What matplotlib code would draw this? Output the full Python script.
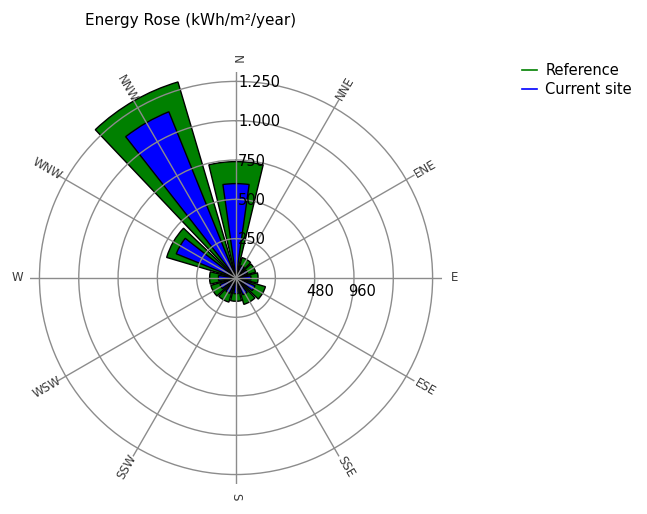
import numpy as np
import matplotlib
matplotlib.use("Agg")
import matplotlib.pyplot as plt
from matplotlib.transforms import offset_copy
from matplotlib.lines import Line2D

# === Data ===
directions = ["N", "NNE", "ENE", "E", "ESE", "SSE", "S", "SSW", "WSW", "W", "WNW", "NNW"]
angles_deg = [0, 30, 60, 90, 120, 150, 180, 210, 240, 270, 300, 330]
reference = [740, 135, 130, 140, 195, 175, 148, 160, 167, 168, 460, 1300]
current_site = [600, 85, 80, 95, 130, 115, 100, 105, 110, 112, 410, 1140]
ring_values = [250, 500, 750, 1000, 1250]
ring_labels = ["250", "500", "750", "1.000", "1.250"]
east_labels = ["480", "960"]
east_label_r = [534, 801]

# === Figure ===
fig = plt.figure(figsize=(6.47, 5.14), dpi=100)
ax = fig.add_axes([0.0464, 0.0584, 0.6368, 0.8016], projection="polar")
ax.set_theta_zero_location("N")
ax.set_theta_direction(-1)
rmax = 1310
ax.set_ylim(0, rmax)

theta = np.deg2rad(angles_deg)
ax.bar(theta, reference, width=np.deg2rad(27), color="#008000", edgecolor="black",
       linewidth=1, zorder=1)
ax.bar(theta, current_site, width=np.deg2rad(16), color="#0000ff", edgecolor="black",
       linewidth=1, zorder=1.5)

ax.set_axisbelow(False)
ax.set_xticks(theta)
ax.set_xticklabels([])
ax.set_yticks(ring_values)
ax.set_yticklabels([])
ax.grid(True, color="#8c8c8c", linewidth=1)
ax.spines["polar"].set_visible(False)
ax.tick_params(length=0)

# radial labels along the N spoke
trans = offset_copy(ax.transData, fig=fig, x=2, y=-1, units="dots")
for r, lab in zip(ring_values, ring_labels):
    ax.text(0, r, lab, transform=trans, ha="left", va="center", fontsize=10.5,
            color="black", clip_on=False)

trans2 = offset_copy(ax.transData, fig=fig, x=0, y=-6, units="dots")
for r, lab in zip(east_label_r, east_labels):
    ax.text(np.deg2rad(90), r, lab, transform=trans2, ha="center", va="top",
            fontsize=10.5, clip_on=False)

# direction labels, rotated along the spokes
for name, a in zip(directions, angles_deg):
    math_ang = 90 - a
    rot = ((math_ang + 90) % 180) - 90
    ax.text(np.deg2rad(a), 1390, name, rotation=rot, rotation_mode="anchor",
            ha="center", va="center", fontsize=8.5, color="#3a3a3a", clip_on=False)

fig.text(0.295, 0.960, "Energy Rose (kWh/m²/year)", ha="center", va="center", fontsize=11)

handles = [Line2D([], [], color="#008000", linewidth=1.2),
           Line2D([], [], color="#0000ff", linewidth=1.2)]
fig.legend(handles, ["Reference", "Current site"], loc="upper left",
           bbox_to_anchor=(0.807, 0.877), frameon=False, fontsize=10.5,
           handlelength=1.0, handletextpad=0.6, labelspacing=0.25,
           borderaxespad=0, borderpad=0)

plt.savefig("out.png", dpi=100)
plt.close()
